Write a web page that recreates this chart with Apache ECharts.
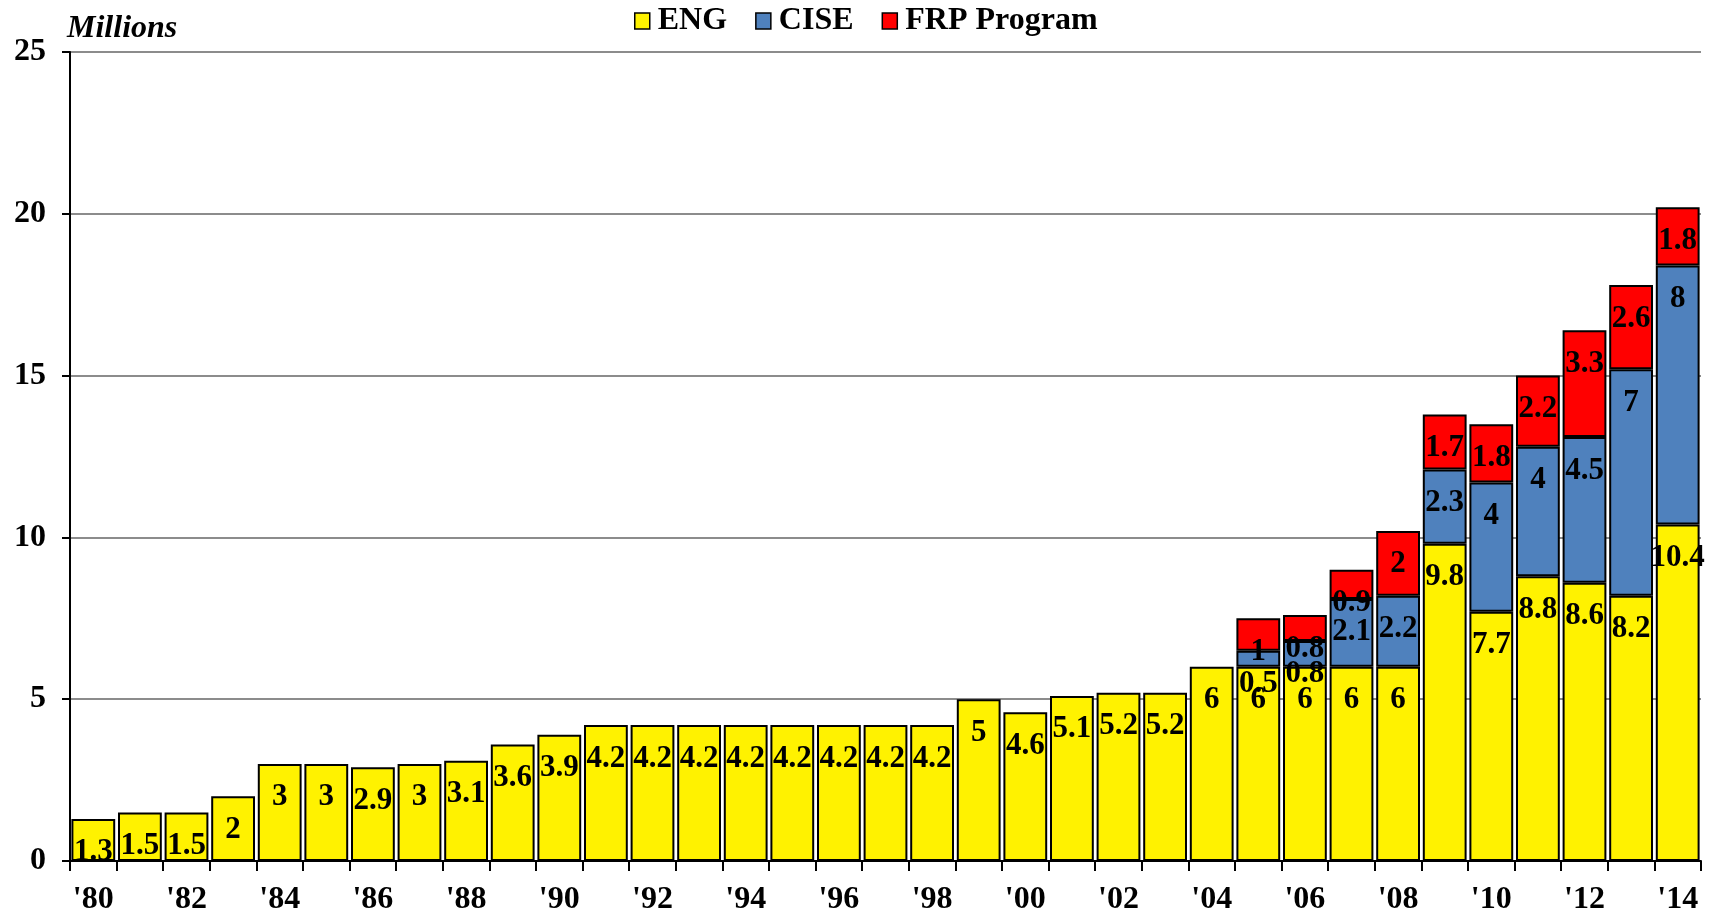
<!DOCTYPE html>
<html>
<head>
<meta charset="utf-8">
<script src="https://cdn.jsdelivr.net/npm/echarts@6/dist/echarts.min.js"></script>
<style>html,body{margin:0;padding:0;background:#fff}#c{width:1719px;height:916px}</style>
</head>
<body>
<div id="c"></div>
<script>
const years = ["'80","'81","'82","'83","'84","'85","'86","'87","'88","'89","'90","'91","'92","'93","'94","'95","'96","'97","'98","'99","'00","'01","'02","'03","'04","'05","'06","'07","'08","'09","'10","'11","'12","'13","'14"];
const eng  = [1.3,1.5,1.5,2,3,3,2.9,3,3.1,3.6,3.9,4.2,4.2,4.2,4.2,4.2,4.2,4.2,4.2,5,4.6,5.1,5.2,5.2,6,6,6,6,6,9.8,7.7,8.8,8.6,8.2,10.4];
const cise = [null,null,null,null,null,null,null,null,null,null,null,null,null,null,null,null,null,null,null,null,null,null,null,null,null,0.5,0.8,2.1,2.2,2.3,4,4,4.5,7,8];
const frp  = [null,null,null,null,null,null,null,null,null,null,null,null,null,null,null,null,null,null,null,null,null,null,null,null,null,1,0.8,0.9,2,1.7,1.8,2.2,3.3,2.6,1.8];
const seriesNames = ['ENG','CISE','FRP Program'];
const colors = ['#FFF200','#4F81BD','#FF0000'];

const FONT = '"Liberation Serif", "Times New Roman", serif';
const chart = echarts.init(document.getElementById('c'), null, {renderer:'canvas'});
const labelCfg = {
  show: true, position: 'insideTop', distance: 18,
  fontFamily: FONT, fontWeight: 'bold', fontSize: 31, color: '#000'
};
function mk(name, data, color) {
  return {
    name, type: 'bar', stack: 'total', data,
    barCategoryGap: '6%',
    itemStyle: { color, borderColor: '#000', borderWidth: 2 },
    label: labelCfg,
    emphasis: { disabled: true }
  };
}
chart.setOption({
  animation: false,
  title: {
    text: 'Millions', left: 62, top: 8,
    textStyle: { fontFamily: FONT, fontStyle: 'italic', fontWeight: 'bold', fontSize: 32, color: '#000' }
  },
  legend: {
    left: 629, top: 0, itemWidth: 15, itemHeight: 16, itemGap: 28,
    icon: 'rect',
    itemStyle: { borderColor: '#000', borderWidth: 1.5 },
    textStyle: { fontFamily: FONT, fontWeight: 'bold', fontSize: 32, color: '#000', padding: [0,0,0,3] },
    data: seriesNames
  },
  grid: { left: 70, right: 18, top: 52, bottom: 55, containLabel: false },
  xAxis: {
    type: 'category', data: years,
    axisLine: { lineStyle: { color: '#000', width: 2 } },
    axisTick: { show: true, interval: 0, length: 10, lineStyle: { color: '#000', width: 2 } },
    axisLabel: { interval: 1, margin: 23, fontFamily: FONT, fontWeight: 'bold', fontSize: 32, color: '#000' }
  },
  yAxis: {
    type: 'value', min: 0, max: 25, interval: 5,
    axisLine: { show: true, lineStyle: { color: '#000', width: 2 } },
    axisTick: { show: true, length: 8, lineStyle: { color: '#000', width: 2 } },
    axisLabel: { margin: 24, fontFamily: FONT, fontWeight: 'bold', fontSize: 32, color: '#000' },
    splitLine: { show: true, lineStyle: { color: '#8c8c8c', width: 2 } }
  },
  series: [
    mk(seriesNames[0], eng, colors[0]),
    mk(seriesNames[1], cise, colors[1]),
    mk(seriesNames[2], frp, colors[2])
  ]
});
</script>
</body>
</html>
